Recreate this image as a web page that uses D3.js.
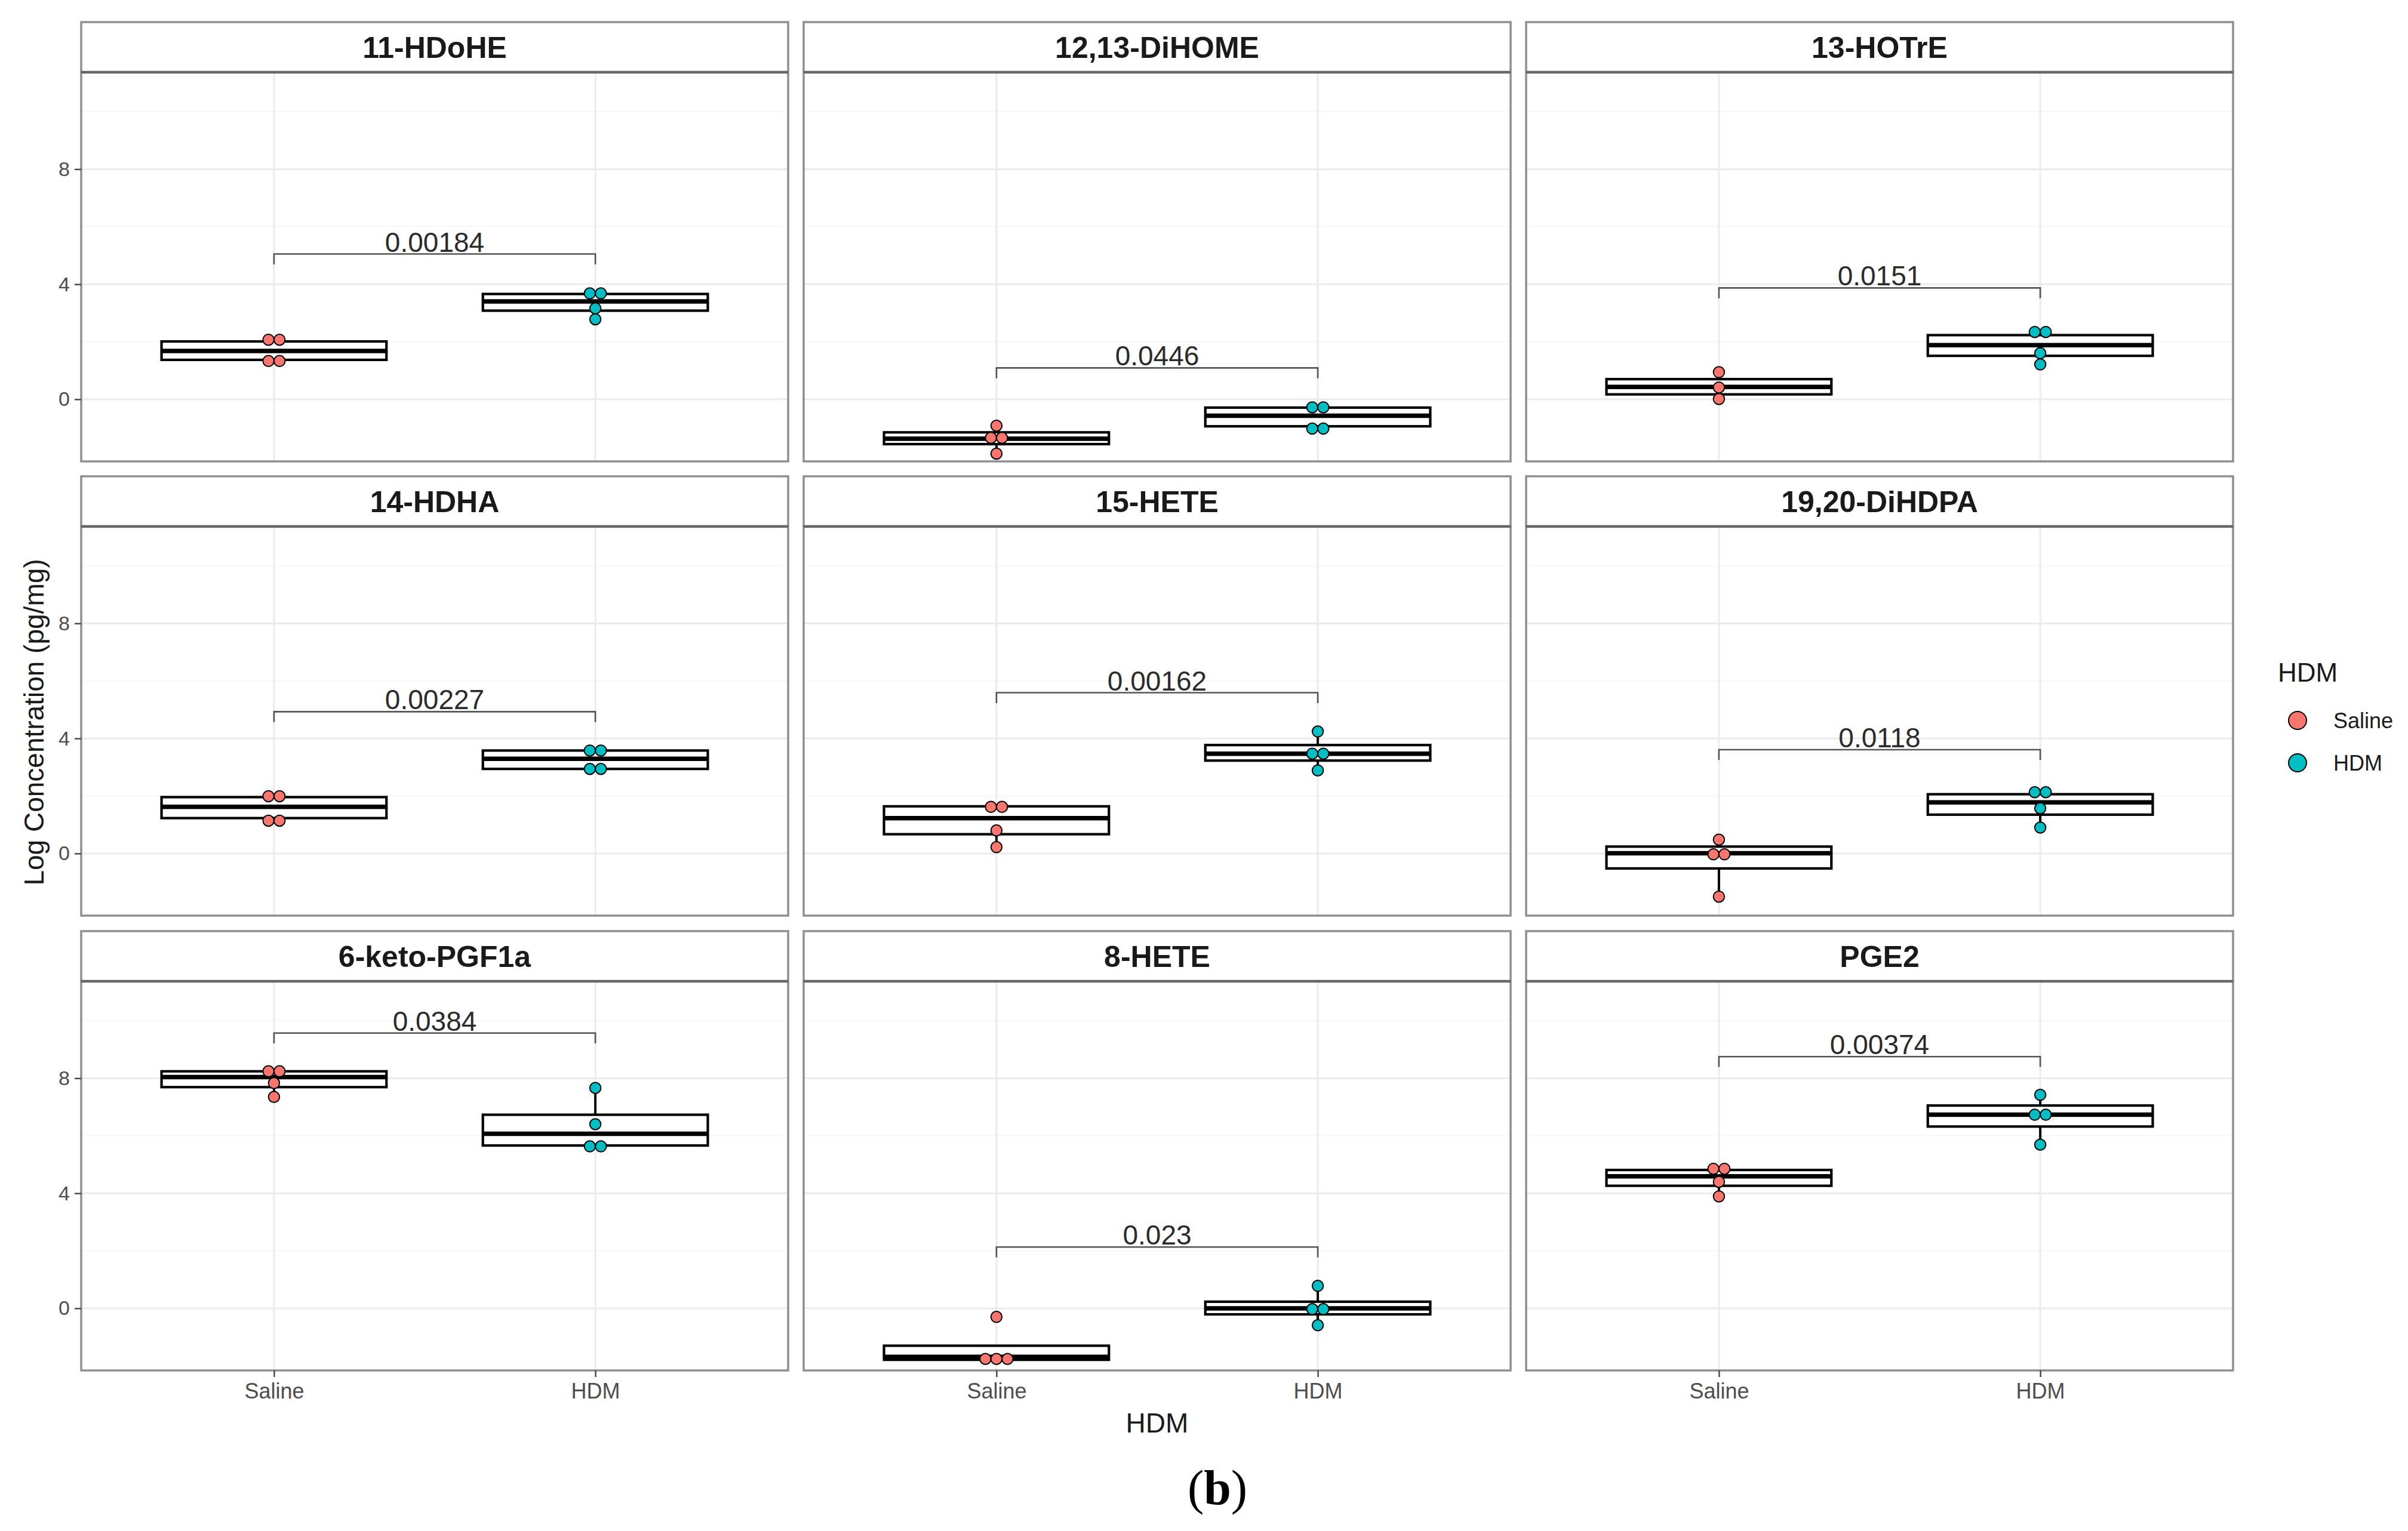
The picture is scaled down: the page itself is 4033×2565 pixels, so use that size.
<!DOCTYPE html>
<html>
<head>
<meta charset="utf-8">
<script src="https://cdn.jsdelivr.net/npm/d3@7"></script>
<style>
  body { margin: 0; background: #fff; }
  text { font-family: "Liberation Sans", Arial, sans-serif; }
</style>
</head>
<body>
<div id="chart"></div>
<script>
// facet names, groups, p-values
const panels = ['11-HDoHE', '12,13-DiHOME', '13-HOTrE', '14-HDHA', '15-HETE', '19,20-DiHDPA', '6-keto-PGF1a', '8-HETE', 'PGE2'];
const groups = ['Saline', 'HDM'];
const pValues = ['0.00184', '0.0446', '0.0151', '0.00227', '0.00162', '0.0118', '0.0384', '0.023', '0.00374'];
const bracketY = [5.05, 1.09, 3.87, 4.93, 5.59, 3.61, 9.57, 2.13, 8.75];

const yTicks = [0, 4, 8];
const yMinor = [2, 6, 10];

// dot positions (log conc.)
const salinePoints = [
  [1.33, 1.33, 2.07, 2.07],
  [-1.89, -1.34, -1.34, -0.92],
  [0.01, 0.41, 0.94],
  [1.14, 1.14, 1.99, 1.99],
  [0.22, 0.80, 1.62, 1.62],
  [-1.50, -0.03, -0.03, 0.48],
  [7.35, 7.83, 8.24, 8.24],
  [-1.76, -1.76, -1.76, -0.30],
  [3.89, 4.40, 4.85, 4.85]
];
const hdmPoints = [
  [2.78, 3.16, 3.68, 3.68],
  [-1.02, -1.02, -0.28, -0.28],
  [1.21, 1.60, 2.34, 2.34],
  [2.94, 2.94, 3.58, 3.58],
  [2.89, 3.47, 3.47, 4.24],
  [0.90, 1.57, 2.13, 2.13],
  [5.63, 5.63, 6.40, 7.66],
  [-0.59, -0.03, -0.03, 0.78],
  [5.69, 6.73, 6.73, 7.42]
];

// box stats: [lower whisker, q1, median, q3, upper whisker]
const salineBox = [
  [1.33, 1.37, 1.68, 2.01, 2.07],
  [-1.89, -1.56, -1.37, -1.15, -0.92],
  [0.01, 0.17, 0.43, 0.70, 0.94],
  [1.14, 1.23, 1.62, 1.96, 1.99],
  [0.22, 0.67, 1.23, 1.64, 1.64],
  [-1.50, -0.52, 0.01, 0.24, 0.48],
  [7.35, 7.69, 8.04, 8.24, 8.24],
  [-1.79, -1.79, -1.69, -1.30, -1.30],
  [3.89, 4.26, 4.59, 4.81, 4.85]
];
const hdmBox = [
  [2.78, 3.08, 3.40, 3.66, 3.68],
  [-1.02, -0.94, -0.57, -0.29, -0.28],
  [1.21, 1.51, 1.88, 2.23, 2.34],
  [2.94, 2.94, 3.29, 3.58, 3.58],
  [2.89, 3.23, 3.47, 3.77, 4.24],
  [0.90, 1.35, 1.78, 2.06, 2.13],
  [5.63, 5.66, 6.07, 6.73, 7.66],
  [-0.59, -0.21, 0.00, 0.23, 0.78],
  [5.69, 6.32, 6.73, 7.05, 7.42]
];

const colors = { Saline: '#F8766D', HDM: '#00BFC4' };

/* ******* layout ******* */
const W = 4033, H = 2565;
const colX = [136, 1346, 2556], panelW = 1184;
const rowY = [37, 798, 1560], stripH = 84, plotH = 652;
const dotD = 18.5;
const tipLen = 0.36;
const borderCol = '#8f8f8f';

const y = d3.scaleLinear().domain([-2.16, 11.37]).range([plotH, 0]);
const x = d3.scalePoint().domain(groups).range([0, panelW]).padding(0.6);
const boxW = x.step() * 0.7;

const svg = d3.select('#chart').append('svg')
  .attr('width', W)
  .attr('height', H)
  .style('background', '#fff');

panels.forEach((name, i) => {
  const col = i % 3, row = Math.floor(i / 3);
  const g = svg.append('g').attr('transform', `translate(${colX[col]},${rowY[row]})`);

  // strip
  g.append('rect')
    .attr('width', panelW).attr('height', stripH)
    .attr('fill', '#fff').attr('stroke', borderCol).attr('stroke-width', 3.5);
  g.append('text')
    .attr('x', panelW / 2).attr('y', stripH / 2 + 18)
    .attr('text-anchor', 'middle')
    .attr('font-size', 50).attr('font-weight', 'bold').attr('fill', '#1a1a1a')
    .text(name);

  const p = g.append('g').attr('transform', `translate(0,${stripH})`);

  // 罫線
  p.append('g').selectAll('line').data(yMinor).join('line')
    .attr('x1', 0).attr('x2', panelW)
    .attr('y1', d => y(d)).attr('y2', d => y(d))
    .attr('stroke', '#f4f4f4').attr('stroke-width', 1.6);
  p.append('g').selectAll('line').data(yTicks).join('line')
    .attr('x1', 0).attr('x2', panelW)
    .attr('y1', d => y(d)).attr('y2', d => y(d))
    .attr('stroke', '#ebebeb').attr('stroke-width', 3);
  p.append('g').selectAll('line').data(groups).join('line')
    .attr('x1', d => x(d)).attr('x2', d => x(d))
    .attr('y1', 0).attr('y2', plotH)
    .attr('stroke', '#ebebeb').attr('stroke-width', 3);

  // boxplots
  const boxes = [
    { grp: 'Saline', s: salineBox[i] },
    { grp: 'HDM', s: hdmBox[i] }
  ];
  boxes.forEach(b => {
    const cx = x(b.grp);
    const [lo, q1, med, q3, hi] = b.s;
    const bg = p.append('g');
    bg.append('line')
      .attr('x1', cx).attr('x2', cx).attr('y1', y(q3)).attr('y2', y(hi))
      .attr('stroke', '#000').attr('stroke-width', 4);
    bg.append('line')
      .attr('x1', cx).attr('x2', cx).attr('y1', y(q1)).attr('y2', y(lo))
      .attr('stroke', '#000').attr('stroke-width', 4);
    bg.append('rect')
      .attr('x', cx - boxW / 2).attr('width', boxW)
      .attr('y', y(q3)).attr('height', y(q1) - y(q3))
      .attr('fill', '#fff').attr('stroke', '#000').attr('stroke-width', 4.2);
    bg.append('line')
      .attr('x1', cx - boxW / 2).attr('x2', cx + boxW / 2)
      .attr('y1', y(med)).attr('y2', y(med))
      .attr('stroke', '#000').attr('stroke-width', 7.5);
  });

  // dots, stacked side by side when in the same bin
  const pts = [];
  [['Saline', salinePoints[i]], ['HDM', hdmPoints[i]]].forEach(([grp, vals]) => {
    d3.group(vals, v => v).forEach((arr, v) => {
      arr.forEach((_, k) => {
        pts.push({ grp, v, off: (k - (arr.length - 1) / 2) * dotD });
      });
    });
  });
  p.append('g').selectAll('circle').data(pts).join('circle')
    .attr('cx', d => x(d.grp) + d.off)
    .attr('cy', d => y(d.v))
    .attr('r', dotD / 2)
    .attr('fill', d => colors[d.grp])
    .attr('stroke', '#000').attr('stroke-width', 2);

  // significance bracket
  const by = bracketY[i];
  p.append('path')
    .attr('d', `M${x('Saline')},${y(by - tipLen)}V${y(by)}H${x('HDM')}V${y(by - tipLen)}`)
    .attr('fill', 'none').attr('stroke', '#555').attr('stroke-width', 2.6);
  p.append('text')
    .attr('x', (x('Saline') + x('HDM')) / 2).attr('y', y(by) - 4)
    .attr('text-anchor', 'middle')
    .attr('font-size', 46).attr('fill', '#2b2b2b')
    .text(pValues[i]);

  // panel border
  p.append('rect')
    .attr('width', panelW).attr('height', plotH)
    .attr('fill', 'none').attr('stroke', borderCol).attr('stroke-width', 3.5);
  p.append('line')
    .attr('x1', 0).attr('x2', panelW).attr('y1', 0).attr('y2', 0)
    .attr('stroke', '#666').attr('stroke-width', 4.5);

  // axes
  if (col === 0) {
    const ax = p.append('g').call(d3.axisLeft(y).tickValues(yTicks).tickSize(11).tickPadding(8));
    ax.select('.domain').remove();
    ax.selectAll('.tick line').attr('stroke', '#444').attr('stroke-width', 2.4);
    ax.selectAll('.tick text')
      .attr('font-size', 34).attr('fill', '#4d4d4d')
      .style('font-family', '"Liberation Sans", Arial, sans-serif');
  }
  if (row === 2) {
    const ax = p.append('g').attr('transform', `translate(0,${plotH})`)
      .call(d3.axisBottom(x).tickSize(11).tickPadding(10));
    ax.select('.domain').remove();
    ax.selectAll('.tick line').attr('stroke', '#444').attr('stroke-width', 2.4);
    ax.selectAll('.tick text')
      .attr('font-size', 36).attr('fill', '#4d4d4d')
      .style('font-family', '"Liberation Sans", Arial, sans-serif');
  }
});

// axis titles
svg.append('text')
  .attr('x', (colX[0] + colX[2] + panelW) / 2).attr('y', 2400)
  .attr('text-anchor', 'middle').attr('font-size', 46).attr('fill', '#1a1a1a')
  .text('HDM');
svg.append('text')
  .attr('transform', 'translate(73,1210) rotate(-90)')
  .attr('text-anchor', 'middle').attr('font-size', 46).attr('fill', '#1a1a1a')
  .text('Log Concentration (pg/mg)');

// legend
const legend = svg.append('g');
legend.append('text')
  .attr('x', 3815).attr('y', 1142)
  .attr('font-size', 44).attr('fill', '#1a1a1a')
  .text('HDM');
const items = legend.selectAll('g.item').data(groups).join('g')
  .attr('class', 'item')
  .attr('transform', (d, k) => `translate(3848,${1207 + k * 71})`);
items.append('circle')
  .attr('r', 15)
  .attr('fill', d => colors[d])
  .attr('stroke', '#000').attr('stroke-width', 2);
items.append('text')
  .attr('x', 60).attr('y', 13)
  .attr('font-size', 36).attr('fill', '#1a1a1a')
  .text(d => d);

// panel label
const lab = svg.append('text')
  .attr('x', 2039).attr('y', 2520)
  .attr('text-anchor', 'middle')
  .attr('font-size', 82)
  .style('font-family', '"Liberation Serif", "Times New Roman", serif');
lab.append('tspan').text('(');
lab.append('tspan').attr('font-weight', 'bold').text('b');
lab.append('tspan').text(')');
</script>
</body>
</html>
